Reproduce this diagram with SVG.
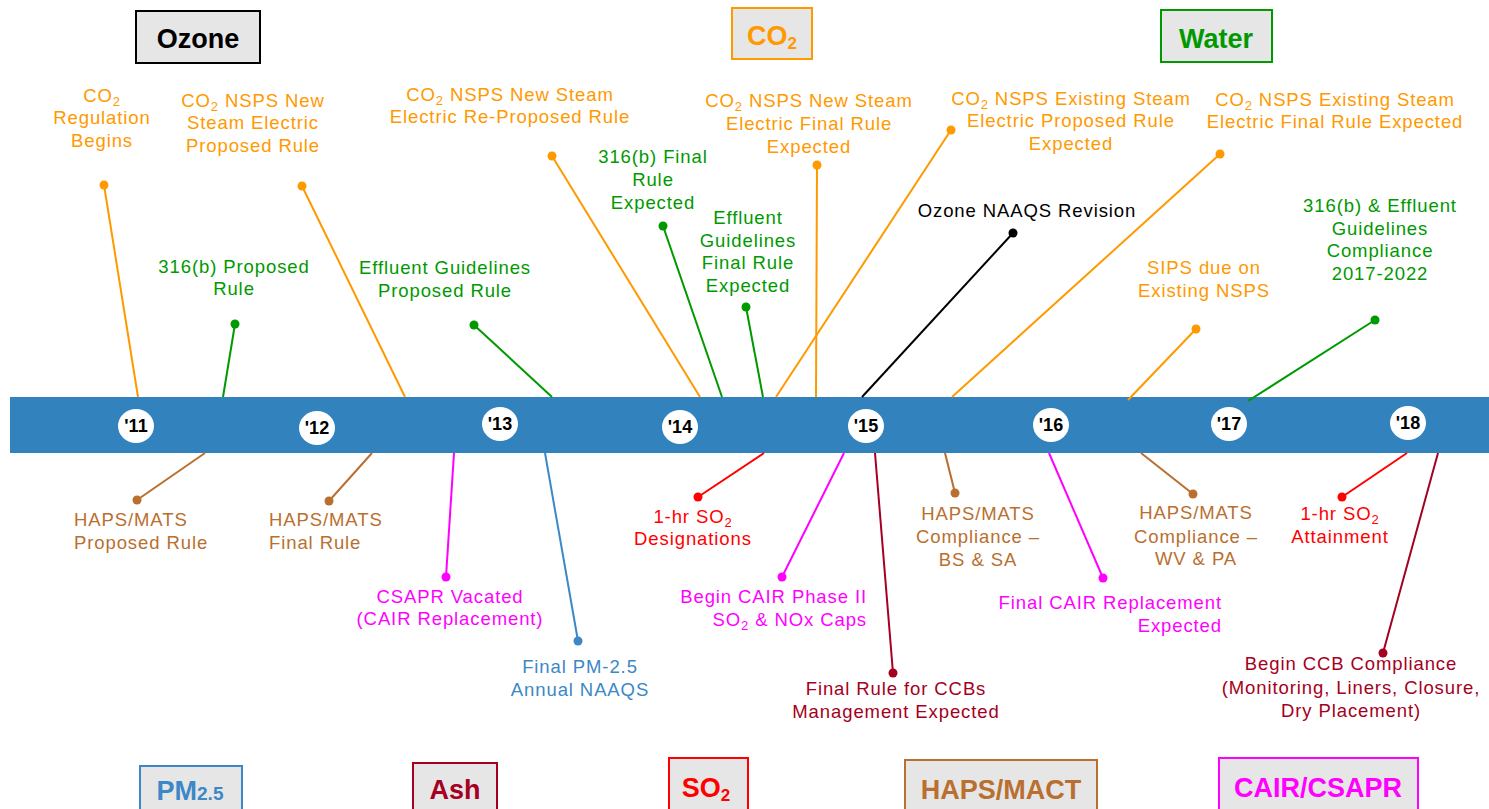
<svg xmlns="http://www.w3.org/2000/svg" width="1489" height="809" viewBox="0 0 1489 809">
<style>
text{font-family:"Liberation Sans",Arial,sans-serif}
.lbl{font-size:18.5px;letter-spacing:0.9px}
.c{text-anchor:middle}
.e{text-anchor:end}
.or{fill:#FF9900}.gr{fill:#009900}.bk{fill:#000}.br{fill:#B96F2F}.mg{fill:#FF00FF}.rd{fill:#FF0000}.dr{fill:#A50021}.bl{fill:#3C88C6}
.box{fill:#E6E6E6;stroke-width:2}
.cat{font-weight:bold;font-size:27px;text-anchor:middle}
.yr{font-weight:bold;font-size:18px;text-anchor:middle;fill:#000}
.ln{stroke-width:2;fill:none}
.so{stroke:#FF9900}.sg{stroke:#009900}.sk{stroke:#000}.sb{stroke:#B96F2F}.sm{stroke:#FF00FF}.sr{stroke:#FF0000}.sd{stroke:#A50021}.sl{stroke:#3C88C6}
</style>
<rect width="1489" height="809" fill="#fff"/>

<g id="timeline">
<rect x="10" y="397" width="1479" height="56" fill="#3282BE"/>
</g>
<g id="y11"><ellipse cx="136" cy="426" rx="18" ry="17" fill="#fff"/><text class="yr" x="136" y="432">'11</text></g>
<g id="y12"><ellipse cx="317" cy="428" rx="18" ry="17" fill="#fff"/><text class="yr" x="317" y="434">'12</text></g>
<g id="y13"><ellipse cx="500" cy="424" rx="18" ry="17" fill="#fff"/><text class="yr" x="500" y="430">'13</text></g>
<g id="y14"><ellipse cx="680" cy="427" rx="18" ry="17" fill="#fff"/><text class="yr" x="680" y="433">'14</text></g>
<g id="y15"><ellipse cx="866" cy="426" rx="18" ry="17" fill="#fff"/><text class="yr" x="866" y="432">'15</text></g>
<g id="y16"><ellipse cx="1051" cy="425" rx="18" ry="17" fill="#fff"/><text class="yr" x="1051" y="431">'16</text></g>
<g id="y17"><ellipse cx="1229" cy="424" rx="18" ry="17" fill="#fff"/><text class="yr" x="1229" y="430">'17</text></g>
<g id="y18"><ellipse cx="1408" cy="423" rx="18" ry="17" fill="#fff"/><text class="yr" x="1408" y="429">'18</text></g>

<g id="cat-ozone"><rect class="box" x="136" y="11" width="124" height="52" stroke="#000"/><text class="cat bk" x="198" y="48">Ozone</text></g>
<g id="cat-co2"><rect class="box" x="732" y="8" width="80" height="51" stroke="#FF9900"/><text class="cat or" x="772" y="45">CO<tspan font-size="17" dy="4">2</tspan></text></g>
<g id="cat-water"><rect class="box" x="1161" y="10" width="111" height="52" stroke="#009900"/><text class="cat gr" x="1216" y="48">Water</text></g>
<g id="cat-pm"><rect class="box" x="140" y="766" width="102" height="60" stroke="#3C88C6"/><text class="cat bl" x="190" y="800">PM<tspan font-size="19">2.5</tspan></text></g>
<g id="cat-ash"><rect class="box" x="413" y="763" width="84" height="60" stroke="#A50021"/><text class="cat dr" x="455" y="799">Ash</text></g>
<g id="cat-so2"><rect class="box" x="669" y="758" width="79" height="60" stroke="#FF0000"/><text class="cat rd" x="706" y="797">SO<tspan font-size="17" dy="4">2</tspan></text></g>
<g id="cat-haps"><rect class="box" x="905" y="760" width="192" height="60" stroke="#B96F2F"/><text class="cat br" x="1001" y="799">HAPS/MACT</text></g>
<g id="cat-cair"><rect class="box" x="1219" y="758" width="199" height="60" stroke="#FF00FF"/><text class="cat mg" x="1318" y="797">CAIR/CSAPR</text></g>

<g id="connectors">
<line class="ln so" x1="104" y1="185" x2="138" y2="397"/><circle cx="104" cy="185" r="4.5" class="or"/>
<line class="ln so" x1="302" y1="186" x2="405" y2="397"/><circle cx="302" cy="186" r="4.5" class="or"/>
<line class="ln so" x1="552" y1="156" x2="700" y2="397"/><circle cx="552" cy="156" r="4.5" class="or"/>
<line class="ln sg" x1="663" y1="226" x2="722" y2="397"/><circle cx="663" cy="226" r="4.5" class="gr"/>
<line class="ln so" x1="817" y1="165" x2="816" y2="397"/><circle cx="817" cy="165" r="4.5" class="or"/>
<line class="ln sg" x1="746" y1="307" x2="763" y2="397"/><circle cx="746" cy="307" r="4.5" class="gr"/>
<line class="ln so" x1="951" y1="130" x2="776" y2="397"/><circle cx="951" cy="130" r="4.5" class="or"/>
<line class="ln sk" x1="1013" y1="233" x2="862" y2="397"/><circle cx="1013" cy="233" r="4.5" class="bk"/>
<line class="ln so" x1="1220" y1="154" x2="952" y2="397"/><circle cx="1220" cy="154" r="4.5" class="or"/>
<line class="ln sg" x1="235" y1="324" x2="223" y2="397"/><circle cx="235" cy="324" r="4.5" class="gr"/>
<line class="ln sg" x1="474" y1="325" x2="552" y2="397"/><circle cx="474" cy="325" r="4.5" class="gr"/>
<line class="ln so" x1="1196" y1="329" x2="1128" y2="400"/><circle cx="1196" cy="329" r="4.5" class="or"/>
<line class="ln sg" x1="1375" y1="320" x2="1248" y2="401"/><circle cx="1375" cy="320" r="4.5" class="gr"/>
<line class="ln sb" x1="137" y1="500" x2="205" y2="453"/><circle cx="137" cy="500" r="4.5" class="br"/>
<line class="ln sb" x1="329" y1="501" x2="372" y2="453"/><circle cx="329" cy="501" r="4.5" class="br"/>
<line class="ln sm" x1="446" y1="577" x2="454" y2="453"/><circle cx="446" cy="577" r="4.5" class="mg"/>
<line class="ln sl" x1="578" y1="641" x2="545" y2="453"/><circle cx="578" cy="641" r="4.5" class="bl"/>
<line class="ln sr" x1="698" y1="497" x2="764" y2="453"/><circle cx="698" cy="497" r="4.5" class="rd"/>
<line class="ln sm" x1="782" y1="577" x2="844" y2="453"/><circle cx="782" cy="577" r="4.5" class="mg"/>
<line class="ln sd" x1="893" y1="673" x2="875" y2="453"/><circle cx="893" cy="673" r="4.5" class="dr"/>
<line class="ln sb" x1="955" y1="493" x2="945" y2="453"/><circle cx="955" cy="493" r="4.5" class="br"/>
<line class="ln sm" x1="1103" y1="578" x2="1049" y2="453"/><circle cx="1103" cy="578" r="4.5" class="mg"/>
<line class="ln sb" x1="1193" y1="494" x2="1141" y2="453"/><circle cx="1193" cy="494" r="4.5" class="br"/>
<line class="ln sr" x1="1342" y1="497" x2="1407" y2="453"/><circle cx="1342" cy="497" r="4.5" class="rd"/>
<line class="ln sd" x1="1383" y1="653" x2="1438" y2="453"/><circle cx="1383" cy="653" r="4.5" class="dr"/>
</g>

<g id="ev-co2-begins"><text class="lbl c or"><tspan x="102" y="102">CO<tspan font-size="13" dy="4">2</tspan></tspan><tspan x="102" y="124">Regulation</tspan><tspan x="102" y="147">Begins</tspan></text></g>
<g id="ev-co2-new-prop"><text class="lbl c or"><tspan x="253" y="107">CO<tspan font-size="13" dy="4">2</tspan><tspan dy="-4"> NSPS New</tspan></tspan><tspan x="253" y="129">Steam Electric</tspan><tspan x="253" y="152">Proposed Rule</tspan></text></g>
<g id="ev-co2-new-reprop"><text class="lbl c or"><tspan x="510" y="101">CO<tspan font-size="13" dy="4">2</tspan><tspan dy="-4"> NSPS New Steam</tspan></tspan><tspan x="510" y="123">Electric Re-Proposed Rule</tspan></text></g>
<g id="ev-316b-final"><text class="lbl c gr"><tspan x="653" y="163">316(b) Final</tspan><tspan x="653" y="186">Rule</tspan><tspan x="653" y="209">Expected</tspan></text></g>
<g id="ev-co2-new-final"><text class="lbl c or"><tspan x="809" y="107">CO<tspan font-size="13" dy="4">2</tspan><tspan dy="-4"> NSPS New Steam</tspan></tspan><tspan x="809" y="130">Electric Final Rule</tspan><tspan x="809" y="153">Expected</tspan></text></g>
<g id="ev-eff-final"><text class="lbl c gr"><tspan x="748" y="224">Effluent</tspan><tspan x="748" y="247">Guidelines</tspan><tspan x="748" y="269">Final Rule</tspan><tspan x="748" y="292">Expected</tspan></text></g>
<g id="ev-co2-exist-prop"><text class="lbl c or"><tspan x="1071" y="105">CO<tspan font-size="13" dy="4">2</tspan><tspan dy="-4"> NSPS Existing Steam</tspan></tspan><tspan x="1071" y="127">Electric Proposed Rule</tspan><tspan x="1071" y="150">Expected</tspan></text></g>
<g id="ev-ozone"><text class="lbl c bk" x="1027" y="217">Ozone NAAQS Revision</text></g>
<g id="ev-co2-exist-final"><text class="lbl c or"><tspan x="1335" y="106">CO<tspan font-size="13" dy="4">2</tspan><tspan dy="-4"> NSPS Existing Steam</tspan></tspan><tspan x="1335" y="128">Electric Final Rule Expected</tspan></text></g>
<g id="ev-316b-prop"><text class="lbl c gr"><tspan x="234" y="273">316(b) Proposed</tspan><tspan x="234" y="295">Rule</tspan></text></g>
<g id="ev-eff-prop"><text class="lbl c gr"><tspan x="445" y="274">Effluent Guidelines</tspan><tspan x="445" y="297">Proposed Rule</tspan></text></g>
<g id="ev-sips"><text class="lbl c or"><tspan x="1204" y="274">SIPS due on</tspan><tspan x="1204" y="297">Existing NSPS</tspan></text></g>
<g id="ev-316b-compl"><text class="lbl c gr"><tspan x="1380" y="212">316(b) &amp; Effluent</tspan><tspan x="1380" y="235">Guidelines</tspan><tspan x="1380" y="257">Compliance</tspan><tspan x="1380" y="280">2017-2022</tspan></text></g>

<g id="ev-haps-prop"><text class="lbl br"><tspan x="74" y="526">HAPS/MATS</tspan><tspan x="74" y="549">Proposed Rule</tspan></text></g>
<g id="ev-haps-final"><text class="lbl br"><tspan x="269" y="526">HAPS/MATS</tspan><tspan x="269" y="549">Final Rule</tspan></text></g>
<g id="ev-csapr"><text class="lbl c mg"><tspan x="450" y="603">CSAPR Vacated</tspan><tspan x="450" y="625">(CAIR Replacement)</tspan></text></g>
<g id="ev-pm25"><text class="lbl c bl"><tspan x="580" y="673">Final PM-2.5</tspan><tspan x="580" y="696">Annual NAAQS</tspan></text></g>
<g id="ev-so2-desig"><text class="lbl c rd"><tspan x="693" y="523">1-hr SO<tspan font-size="13" dy="4">2</tspan></tspan><tspan x="693" y="545">Designations</tspan></text></g>
<g id="ev-cair2"><text class="lbl e mg"><tspan x="867" y="603">Begin CAIR Phase II</tspan><tspan x="867" y="626">SO<tspan font-size="13" dy="4">2</tspan><tspan dy="-4"> &amp; NOx Caps</tspan></tspan></text></g>
<g id="ev-ccb-final"><text class="lbl c dr"><tspan x="896" y="695">Final Rule for CCBs</tspan><tspan x="896" y="718">Management Expected</tspan></text></g>
<g id="ev-haps-bs"><text class="lbl c br"><tspan x="978" y="520">HAPS/MATS</tspan><tspan x="978" y="543">Compliance –</tspan><tspan x="978" y="566">BS &amp; SA</tspan></text></g>
<g id="ev-cair-final"><text class="lbl e mg"><tspan x="1222" y="609">Final CAIR Replacement</tspan><tspan x="1222" y="632">Expected</tspan></text></g>
<g id="ev-haps-wv"><text class="lbl c br"><tspan x="1196" y="519">HAPS/MATS</tspan><tspan x="1196" y="543">Compliance –</tspan><tspan x="1196" y="565">WV &amp; PA</tspan></text></g>
<g id="ev-so2-attain"><text class="lbl c rd"><tspan x="1340" y="520">1-hr SO<tspan font-size="13" dy="4">2</tspan></tspan><tspan x="1340" y="543">Attainment</tspan></text></g>
<g id="ev-ccb-compl"><text class="lbl c dr"><tspan x="1351" y="670">Begin CCB Compliance</tspan><tspan x="1351" y="694">(Monitoring, Liners, Closure,</tspan><tspan x="1351" y="717">Dry Placement)</tspan></text></g>
</svg>
